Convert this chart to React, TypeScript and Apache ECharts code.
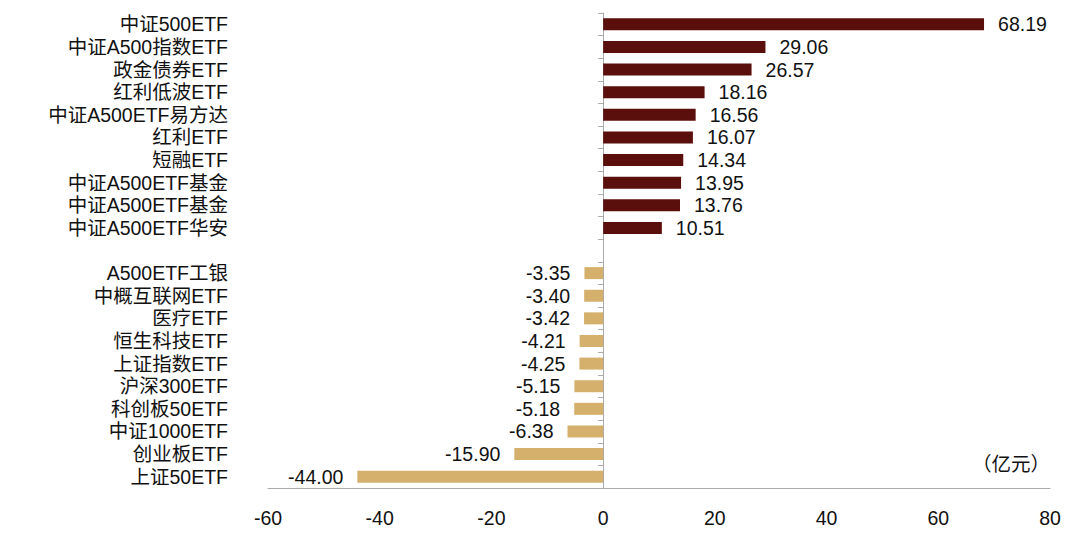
import React, { useEffect, useRef } from "react";
import * as echarts from "echarts";

const categories = [
  "中证500ETF",
  "中证A500指数ETF",
  "政金债券ETF",
  "红利低波ETF",
  "中证A500ETF易方达",
  "红利ETF",
  "短融ETF",
  "中证A500ETF基金",
  "中证A500ETF基金",
  "中证A500ETF华安",
  "",
  "A500ETF工银",
  "中概互联网ETF",
  "医疗ETF",
  "恒生科技ETF",
  "上证指数ETF",
  "沪深300ETF",
  "科创板50ETF",
  "中证1000ETF",
  "创业板ETF",
  "上证50ETF",
];

const values: (number | null)[] = [
  68.19, 29.06, 26.57, 18.16, 16.56, 16.07, 14.34, 13.95, 13.76, 10.51,
  null,
  -3.35, -3.4, -3.42, -4.21, -4.25, -5.15, -5.18, -6.38, -15.9, -44.0,
];

const xTicks = { min: -60, max: 80, interval: 20 };
const unitLabel = "（亿元）";

const POS = "#5B0F0C";
const NEG = "#D5B06C";
const FONT = "Liberation Sans, Noto Sans CJK SC, sans-serif";
const FS = 19.5;

export default function App() {
  const ref = useRef<HTMLDivElement>(null);
  useEffect(() => {
    if (!ref.current) return;
    const chart = echarts.init(ref.current, null, { renderer: "svg" });
    chart.setOption({
      animation: false,
      backgroundColor: "#fff",
      textStyle: { fontFamily: FONT },
      grid: { left: 268, right: 30, top: 13, bottom: 45, containLabel: false },
      xAxis: {
        type: "value",
        min: xTicks.min,
        max: xTicks.max,
        interval: xTicks.interval,
        splitLine: { show: false },
        axisLine: { show: true, onZero: false, lineStyle: { color: "#AAAAAA", width: 1 } },
        axisTick: { show: false },
        axisLabel: { color: "#111", fontSize: FS, margin: 20, fontFamily: FONT },
      },
      yAxis: [
        {
          type: "category",
          data: categories,
          inverse: true,
          position: "left",
          axisLine: { show: true, onZero: true, lineStyle: { color: "#AAAAAA", width: 1 } },
          axisTick: { show: true, length: 5, interval: 0, lineStyle: { color: "#AAAAAA" } },
          axisLabel: { show: false },
          splitLine: { show: false },
        },
        {
          type: "category",
          data: categories,
          inverse: true,
          position: "left",
          axisLine: { show: false, onZero: false },
          axisTick: { show: false },
          axisLabel: {
            show: true,
            interval: 0,
            color: "#111",
            fontSize: FS,
            margin: 40,
            fontFamily: FONT,
          },
          splitLine: { show: false },
        },
      ],
      series: [
        {
          type: "bar",
          yAxisIndex: 0,
          barWidth: 12,
          data: values.map((v) =>
            v === null
              ? null
              : {
                  value: v,
                  itemStyle: { color: v >= 0 ? POS : NEG },
                  label: {
                    show: true,
                    position: v >= 0 ? "right" : "left",
                    distance: 14,
                    formatter: v.toFixed(2),
                    color: "#111",
                    fontSize: FS,
                    fontFamily: FONT,
                  },
                }
          ),
        },
      ],
      graphic: [
        {
          type: "text",
          left: 972,
          top: 454,
          style: { text: unitLabel, fontSize: FS, fill: "#111", fontFamily: FONT },
        },
      ],
    });
    return () => chart.dispose();
  }, []);
  return (
    <div
      ref={ref}
      style={{ position: "fixed", left: 0, top: 0, width: 1080, height: 533 }}
    />
  );
}
